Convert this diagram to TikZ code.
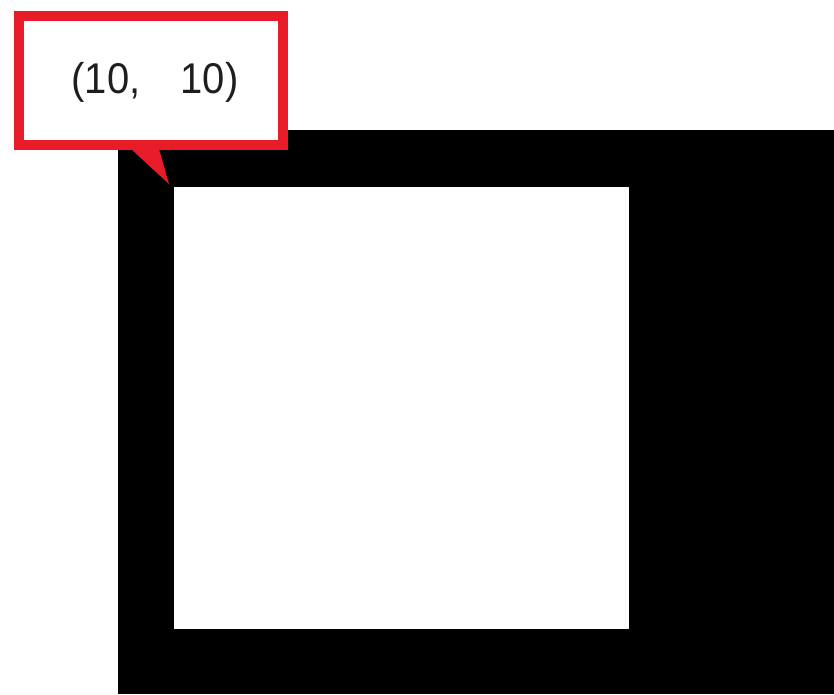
\documentclass[tikz,border=0pt]{standalone}
\usepackage{fontspec}
\setmainfont{Liberation Sans}
\definecolor{callred}{RGB}{232,28,40}
\definecolor{txtgray}{RGB}{30,30,30}
\begin{document}
\begin{tikzpicture}[x=1pt,y=-1pt,
  blackbox/.style={fill=black,draw=none},
  hole/.style={fill=white,draw=none},
  callout/.style={fill=white,draw=callred,line width=10pt},
  tail/.style={fill=callred,draw=none},
  label/.style={font=\fontsize{43}{50}\selectfont,text=txtgray,inner sep=0pt}]
\useasboundingbox (0,0) rectangle (834,694);
\fill[white] (0,0) rectangle (834,694);
\path[blackbox] (118,130) rectangle (834,694);
\path[hole] (174,187) rectangle (629,629);
\draw[callout] (19,16) rectangle (283,145);
\coordinate (tip) at (169,184);
\path[tail] (131,149) -- (159,149) -- (tip) -- cycle;
\node[label] (lbl) at (155,82) {\scalebox{0.93}[1]{(10,}\hspace{40pt}\scalebox{0.93}[1]{10)}};
\end{tikzpicture}
\end{document}
